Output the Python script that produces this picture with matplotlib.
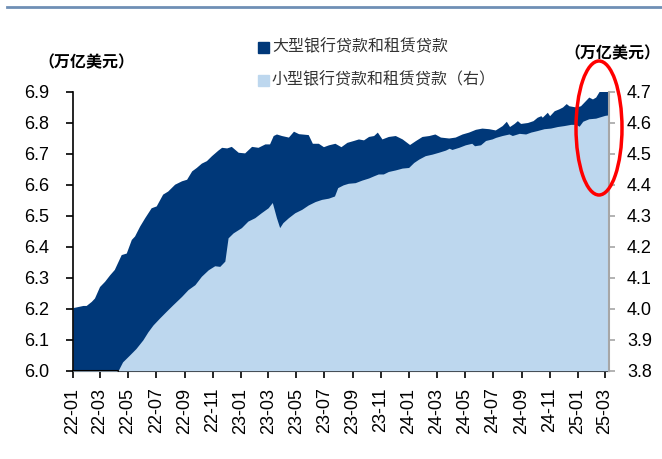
import numpy as np
import matplotlib.pyplot as plt
import matplotlib.dates as mdates
from matplotlib.patches import Ellipse, Rectangle
from matplotlib.lines import Line2D

plt.rcParams['font.family'] = ['Liberation Sans', 'Noto Sans CJK SC', 'DejaVu Sans']

# large banks: loans and leases (left axis, trillion USD)
large_dates = [
    "2022-01-01", "2022-01-23", "2022-01-30", "2022-02-10", "2022-02-17", "2022-02-28",
    "2022-03-11", "2022-03-22", "2022-04-01", "2022-04-16", "2022-04-27", "2022-05-08",
    "2022-05-15", "2022-05-26", "2022-06-06", "2022-06-20", "2022-07-01", "2022-07-15",
    "2022-07-26", "2022-08-10", "2022-08-25", "2022-09-05", "2022-09-16", "2022-09-26",
    "2022-10-07", "2022-10-18", "2022-10-29", "2022-11-12", "2022-11-20", "2022-12-01",
    "2022-12-11", "2022-12-26", "2023-01-09", "2023-01-24", "2023-02-07", "2023-02-22",
    "2023-03-04", "2023-03-12", "2023-03-19", "2023-03-30", "2023-04-14", "2023-04-25",
    "2023-05-06", "2023-05-27", "2023-06-05", "2023-06-18", "2023-06-29", "2023-07-10",
    "2023-07-24", "2023-08-06", "2023-08-19", "2023-09-02", "2023-09-13", "2023-09-24",
    "2023-10-05", "2023-10-16", "2023-10-24", "2023-11-03", "2023-11-17", "2023-12-02",
    "2023-12-17", "2024-01-02", "2024-01-15", "2024-01-29", "2024-02-13", "2024-02-26",
    "2024-03-09", "2024-03-27", "2024-04-10", "2024-04-25", "2024-05-09", "2024-05-24",
    "2024-06-07", "2024-06-22", "2024-07-06", "2024-07-21", "2024-07-30", "2024-08-06",
    "2024-08-16", "2024-08-23", "2024-08-30", "2024-09-14", "2024-09-26", "2024-10-05",
    "2024-10-13", "2024-10-16", "2024-10-27", "2024-11-01", "2024-11-11", "2024-11-21",
    "2024-11-29", "2024-12-07", "2024-12-13", "2024-12-28", "2025-01-07", "2025-01-18",
    "2025-01-25", "2025-02-02", "2025-02-09", "2025-02-18", "2025-03-10",
]
large_vals = [
    6.204, 6.211, 6.211, 6.224, 6.235, 6.272,
    6.289, 6.310, 6.327, 6.375, 6.380, 6.424,
    6.435, 6.467, 6.494, 6.526, 6.532, 6.570,
    6.580, 6.602, 6.613, 6.618, 6.645, 6.656,
    6.670, 6.678, 6.694, 6.712, 6.721, 6.719,
    6.724, 6.705, 6.703, 6.724, 6.721, 6.732,
    6.732, 6.759, 6.764, 6.759, 6.754, 6.773,
    6.765, 6.762, 6.734, 6.734, 6.723, 6.729,
    6.734, 6.723, 6.737, 6.743, 6.748, 6.745,
    6.756, 6.759, 6.770, 6.748, 6.756, 6.759,
    6.748, 6.730, 6.743, 6.756, 6.759, 6.764,
    6.754, 6.751, 6.754, 6.764, 6.770, 6.779,
    6.783, 6.781, 6.777, 6.791, 6.805, 6.788,
    6.798, 6.807, 6.798, 6.801, 6.807, 6.818,
    6.823, 6.818, 6.834, 6.823, 6.839, 6.845,
    6.851, 6.862, 6.855, 6.851, 6.855, 6.872,
    6.883, 6.877, 6.883, 6.905, 6.920,
]

# small banks: loans and leases (right axis, trillion USD)
small_dates = [
    "2022-01-01", "2022-03-02", "2022-04-01", "2022-04-09", "2022-04-19", "2022-05-04",
    "2022-05-18", "2022-06-02", "2022-06-13", "2022-06-24", "2022-07-08", "2022-07-22",
    "2022-08-06", "2022-08-25", "2022-09-08", "2022-09-23", "2022-10-07", "2022-10-22",
    "2022-11-05", "2022-11-16", "2022-11-27", "2022-12-04", "2022-12-15", "2023-01-02",
    "2023-01-16", "2023-01-31", "2023-02-14", "2023-03-01", "2023-03-10", "2023-03-19",
    "2023-03-26", "2023-04-02", "2023-04-14", "2023-04-28", "2023-05-13", "2023-05-27",
    "2023-06-11", "2023-06-25", "2023-07-10", "2023-07-23", "2023-07-30", "2023-08-11",
    "2023-08-22", "2023-09-06", "2023-09-20", "2023-10-05", "2023-10-16", "2023-10-26",
    "2023-11-06", "2023-11-17", "2023-12-02", "2023-12-17", "2023-12-31", "2024-01-11",
    "2024-01-22", "2024-02-05", "2024-02-20", "2024-03-05", "2024-03-20", "2024-03-28",
    "2024-04-03", "2024-04-18", "2024-05-02", "2024-05-16", "2024-05-22", "2024-06-04",
    "2024-06-15", "2024-06-29", "2024-07-07", "2024-07-21", "2024-08-05", "2024-08-12",
    "2024-08-27", "2024-09-10", "2024-09-21", "2024-10-05", "2024-10-20", "2024-11-03",
    "2024-11-18", "2024-12-02", "2024-12-17", "2024-12-28", "2025-01-04", "2025-01-12",
    "2025-01-25", "2025-02-09", "2025-02-20", "2025-03-01", "2025-03-10",
]
small_vals = [
    3.785, 3.790, 3.795, 3.800, 3.829, 3.851,
    3.872, 3.900, 3.926, 3.948, 3.970, 3.991,
    4.013, 4.040, 4.062, 4.078, 4.105, 4.126,
    4.139, 4.137, 4.154, 4.229, 4.245, 4.262,
    4.283, 4.294, 4.310, 4.326, 4.343, 4.294,
    4.262, 4.278, 4.294, 4.310, 4.321, 4.335,
    4.346, 4.353, 4.357, 4.364, 4.391, 4.400,
    4.405, 4.407, 4.415, 4.422, 4.429, 4.435,
    4.435, 4.443, 4.448, 4.454, 4.456, 4.472,
    4.483, 4.494, 4.499, 4.505, 4.512, 4.518,
    4.514, 4.521, 4.529, 4.534, 4.526, 4.529,
    4.543, 4.548, 4.553, 4.559, 4.564, 4.559,
    4.566, 4.564, 4.570, 4.575, 4.581, 4.583,
    4.588, 4.591, 4.595, 4.595, 4.589, 4.605,
    4.613, 4.615, 4.620, 4.624, 4.626,
]

label_large = "大型银行贷款和租赁贷款"
label_small = "小型银行贷款和租赁贷款（右）"
unit = "（万亿美元）"

dark = "#003879"
light = "#BDD7EE"

large_x = np.array(large_dates, dtype="datetime64[D]")
small_x = np.array(small_dates, dtype="datetime64[D]")

fig = plt.figure(figsize=(6.62, 4.59), dpi=100)
ax = fig.add_axes([0.110, 0.192, 0.810, 0.608])
ax.fill_between(large_x, 6.0, large_vals, color=dark, linewidth=0)
ax.set_ylim(6.0, 6.9)
ax.set_yticks(np.arange(6.0, 6.91, 0.1))
ax.yaxis.set_major_formatter(plt.FormatStrFormatter("%.1f"))

ax2 = ax.twinx()
ax2.fill_between(small_x, 3.8, small_vals, color=light, linewidth=0)
ax2.set_ylim(3.8, 4.7)
ax2.set_yticks(np.arange(3.8, 4.71, 0.1))
ax2.yaxis.set_major_formatter(plt.FormatStrFormatter("%.1f"))

ax.set_xlim(np.datetime64("2022-01-01"), np.datetime64("2025-03-10"))
ax.xaxis.set_major_locator(mdates.MonthLocator(bymonth=[1, 3, 5, 7, 9, 11]))
ax.xaxis.set_major_formatter(mdates.DateFormatter("%y-%m"))

for a in (ax, ax2):
    a.spines["top"].set_visible(False)
ax.spines["right"].set_visible(False)
ax2.spines["left"].set_visible(False)
ax2.spines["bottom"].set_visible(False)
ax.spines["left"].set_linewidth(1.2)
ax.spines["bottom"].set_linewidth(1.5)
ax2.spines["right"].set_color("#A6A6A6")
ax2.spines["right"].set_linewidth(1.5)

ax.tick_params(axis="y", labelsize=13, length=5, width=1.2, pad=12, direction="out")
ax.tick_params(axis="x", labelsize=13, length=5, width=1.2, pad=7, rotation=90)
ax2.tick_params(axis="y", labelsize=13, length=4, width=1.2, pad=9, color="#A6A6A6")

# legend drawn as squares + text
fig.patches.append(Rectangle((258 / 662, 1 - 53 / 459), 11 / 662, 11 / 459,
                             transform=fig.transFigure, color=dark))
fig.patches.append(Rectangle((258 / 662, 1 - 86 / 459), 11 / 662, 11 / 459,
                             transform=fig.transFigure, color=light))
fig.text(272 / 662, 1 - 47 / 459, label_large, fontsize=11.5, color="#333333",
         va="center", family=["Noto Sans CJK SC", "DejaVu Sans"])
fig.text(272 / 662, 1 - 80 / 459, label_small, fontsize=11.5, color="#333333",
         va="center", family=["Noto Sans CJK SC", "DejaVu Sans"])

# unit labels
fig.text(38 / 662, 1 - 62 / 459, unit, fontsize=11.5, fontweight="bold",
         va="center", family=["Noto Sans CJK SC", "DejaVu Sans"])
fig.text(660 / 662, 1 - 53 / 459, unit, fontsize=11.5, fontweight="bold",
         ha="right", va="center", family=["Noto Sans CJK SC", "DejaVu Sans"])

# top rule under the (cropped) title
fig.add_artist(Line2D([7 / 662, 1.0], [1 - 7 / 459, 1 - 7 / 459], transform=fig.transFigure,
                      color="#6F8FB5", linewidth=2))

# red highlight ellipse
fig.patches.append(Ellipse((599 / 662, 1 - 128 / 459), 46 / 662, 134 / 459,
                           transform=fig.transFigure, fill=False, edgecolor="red", linewidth=2.5))

fig.savefig("out.png", dpi=100)
